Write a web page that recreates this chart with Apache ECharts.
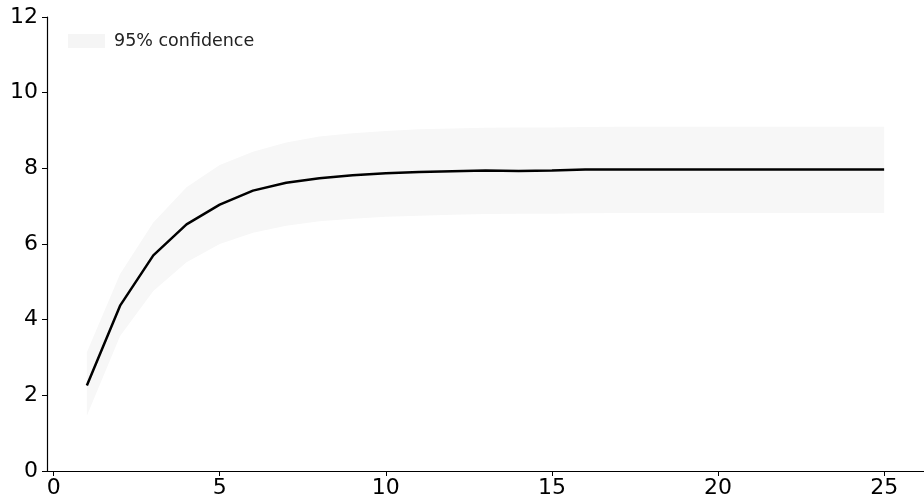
<!DOCTYPE html>
<html>
<head>
<meta charset="utf-8">
<script src="https://cdn.jsdelivr.net/npm/echarts@6/dist/echarts.min.js"></script>
<style>
  html, body { margin: 0; padding: 0; background: #fff; }
  #chart { width: 924px; height: 503px; }
</style>
</head>
<body>
<div id="chart"></div>
<script>
var steps = [1, 2, 3, 4, 5, 6, 7, 8, 9, 10, 11, 12, 13, 14, 15, 16, 17, 18, 19, 20, 21, 22, 23, 24, 25];
var response = [2.26, 4.37, 5.70, 6.52, 7.04, 7.41, 7.62, 7.74, 7.82, 7.87, 7.90, 7.92, 7.94, 7.93, 7.94, 7.97, 7.97, 7.97, 7.97, 7.97, 7.97, 7.97, 7.97, 7.97, 7.97];
var upper = [3.14, 5.21, 6.57, 7.50, 8.09, 8.44, 8.68, 8.84, 8.93, 8.99, 9.03, 9.05, 9.07, 9.08, 9.08, 9.09, 9.10, 9.10, 9.10, 9.10, 9.10, 9.10, 9.10, 9.10, 9.10];
var lower = [1.46, 3.57, 4.76, 5.52, 6.00, 6.30, 6.48, 6.60, 6.67, 6.72, 6.75, 6.77, 6.79, 6.80, 6.80, 6.81, 6.82, 6.82, 6.82, 6.82, 6.82, 6.82, 6.82, 6.82, 6.82];
var xTicks = [0, 5, 10, 15, 20, 25];

var chartDom = document.getElementById('chart');
var myChart = echarts.init(chartDom);

var lineData = steps.map(function (s, i) { return [s, response[i]]; });
var bandData = steps.map(function (s, i) { return [s, lower[i], upper[i]]; });

// whole band as one polygon, so no seams between segments
function renderBand(params, api) {
    if (params.dataIndex !== 0) return;
    var pts = [];
    for (var i = 0; i < steps.length; i++) {
        pts.push(api.coord([steps[i], upper[i]]));
    }
    for (var j = steps.length - 1; j >= 0; j--) {
        pts.push(api.coord([steps[j], lower[j]]));
    }
    return {
        type: 'polygon',
        shape: { points: pts },
        style: { fill: '#f7f7f7' },
        silent: true
    };
}

var option = {
    animation: false,
    textStyle: { fontFamily: 'DejaVu Sans' },
    grid: { left: 47, top: 17, right: 0, bottom: 32, outerBoundsMode: 'none', containLabel: false },
    legend: {
        left: 63,
        top: 27,
        itemWidth: 37,
        itemHeight: 14,
        data: [{ name: '95% confidence', icon: 'rect' }],
        textStyle: { fontSize: 17.5, color: '#222', padding: [0, 0, 0, 4] }
    },
    xAxis: {
        type: 'value',
        min: -0.2,
        max: 26.2,
        splitLine: { show: false },
        axisLine: { onZero: false, lineStyle: { color: '#000', width: 1.2 } },
        axisTick: { length: 5, lineStyle: { color: '#000' }, customValues: xTicks },
        axisLabel: { fontSize: 22, color: '#000', margin: 6, customValues: xTicks }
    },
    yAxis: {
        type: 'value',
        min: 0,
        max: 12,
        interval: 2,
        splitLine: { show: false },
        axisLine: { show: true, onZero: false, lineStyle: { color: '#000', width: 1.2 } },
        axisTick: { show: true, length: 5, lineStyle: { color: '#000' } },
        axisLabel: { fontSize: 22, color: '#000', margin: 9 }
    },
    series: [
        {
            name: '95% confidence',
            type: 'custom',
            renderItem: renderBand,
            data: bandData,
            itemStyle: { color: '#f5f5f5' },
            z: 1
        },
        {
            name: 'response',
            type: 'line',
            data: lineData,
            symbol: 'none',
            lineStyle: { color: '#000', width: 2.5 },
            z: 5
        }
    ]
};

myChart.setOption(option);
</script>
</body>
</html>
